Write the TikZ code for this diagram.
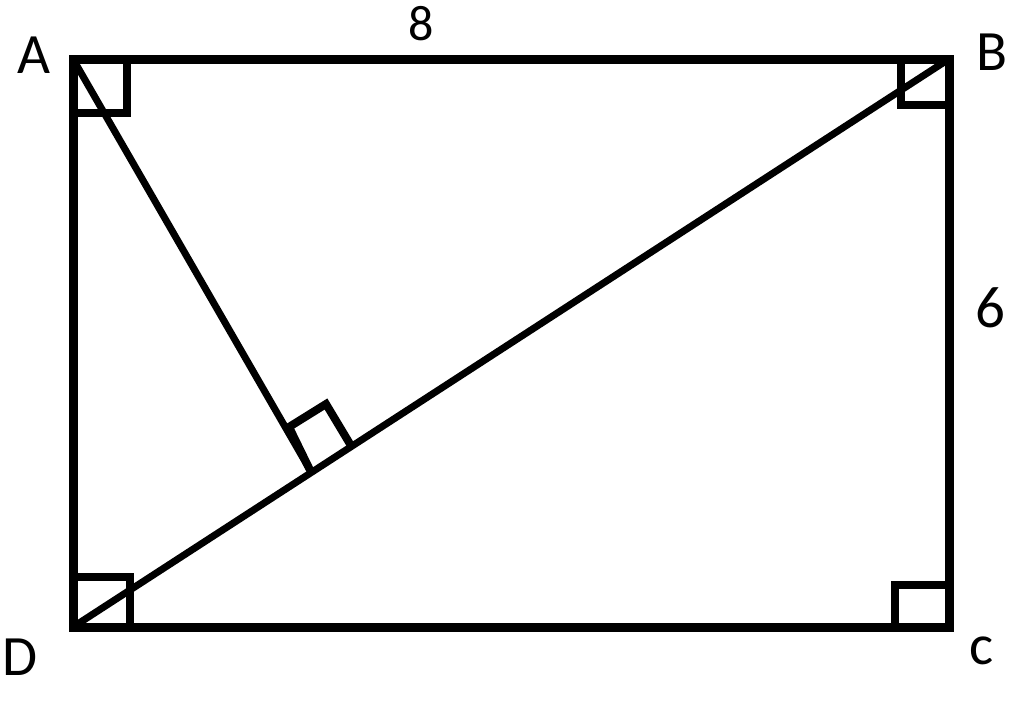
\documentclass[tikz,border=0pt]{standalone}
\usepackage{fontspec}
\setmainfont{Carlito}
\begin{document}
\begin{tikzpicture}[x=1pt,y=-1pt,
  lbl/.style={inner sep=0pt, font=\fontsize{57}{60}\selectfont},
  frame/.style={line width=9pt, line join=miter},
  anglebox/.style={line width=8pt, line join=miter},
  diag/.style={line width=7pt}]
\useasboundingbox (0,0) rectangle (1024,702);
\coordinate (A) at (73,59);
\coordinate (B) at (949,59);
\coordinate (C) at (949,627);
\coordinate (D) at (73,627);
\coordinate (F) at (310,470);
% right-angle marks
\draw[anglebox] (A) rectangle (127,113);
\draw[anglebox] (B) rectangle (901,105);
\draw[anglebox] (C) rectangle (895,585);
\draw[anglebox] (D) rectangle (130,577);
\draw[anglebox] (F) -- (289,427) -- (326,404) -- (350,444);
% lines
\draw[diag] (D) -- (B);
\draw[diag] (A) -- (F);
\draw[frame] (A) -- (B) -- (C) -- (D) -- cycle;
% labels
\node[lbl] (lA) at (34,55) {A};
\node[lbl] (lB) at (992,52) {B};
\node[lbl] (lC) at (982,651) {c};
\node[lbl] (lD) at (20,657) {D};
\node[lbl, font=\fontsize{50}{52}\selectfont] (l8) at (421,24) {8};
\node[lbl, font=\fontsize{59}{62}\selectfont] (l6) at (990,308) {6};
\end{tikzpicture}
\end{document}
